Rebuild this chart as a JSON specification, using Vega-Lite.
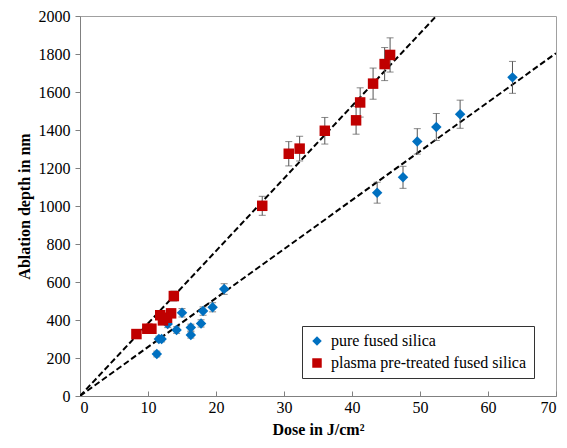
{
  "$schema": "https://vega.github.io/schema/vega-lite/v6.json",
  "width": 476,
  "height": 380,
  "autosize": "none",
  "padding": {"left": 80, "top": 16, "right": 11, "bottom": 52},
  "background": "white",
  "config": {
    "view": {"stroke": "#a0a0a0", "strokeWidth": 1},
    "font": "Times New Roman",
    "axis": {
      "labelFont": "Times New Roman", "labelFontSize": 16, "labelColor": "#000",
      "titleFont": "Times New Roman", "titleFontSize": 16, "titleFontWeight": "bold", "titleColor": "#000",
      "domainColor": "#808080", "tickColor": "#808080", "grid": false, "tickSize": 5
    },
    "legend": {"labelFont": "Times New Roman", "labelFontSize": 16, "labelColor": "#000", "labelLimit": 0}
  },
  "datasets": {
    "pts": [
      {"s": "pure fused silica", "x": 11.3, "y": 221, "lo": 206, "hi": 236},
      {"s": "pure fused silica", "x": 11.6, "y": 300, "lo": 285, "hi": 315},
      {"s": "pure fused silica", "x": 12.0, "y": 300, "lo": 285, "hi": 315},
      {"s": "pure fused silica", "x": 12.9, "y": 379, "lo": 360, "hi": 398},
      {"s": "pure fused silica", "x": 14.2, "y": 347, "lo": 330, "hi": 364},
      {"s": "pure fused silica", "x": 15.0, "y": 438, "lo": 416, "hi": 460},
      {"s": "pure fused silica", "x": 16.3, "y": 360, "lo": 342, "hi": 378},
      {"s": "pure fused silica", "x": 16.3, "y": 321, "lo": 305, "hi": 337},
      {"s": "pure fused silica", "x": 17.8, "y": 382, "lo": 363, "hi": 401},
      {"s": "pure fused silica", "x": 18.1, "y": 447, "lo": 425, "hi": 469},
      {"s": "pure fused silica", "x": 19.5, "y": 467, "lo": 443, "hi": 491},
      {"s": "pure fused silica", "x": 21.2, "y": 563, "lo": 535, "hi": 591},
      {"s": "pure fused silica", "x": 43.7, "y": 1070, "lo": 1015, "hi": 1125},
      {"s": "pure fused silica", "x": 47.5, "y": 1151, "lo": 1093, "hi": 1209},
      {"s": "pure fused silica", "x": 49.6, "y": 1340, "lo": 1273, "hi": 1407},
      {"s": "pure fused silica", "x": 52.4, "y": 1416, "lo": 1345, "hi": 1487},
      {"s": "pure fused silica", "x": 55.9, "y": 1483, "lo": 1409, "hi": 1557},
      {"s": "pure fused silica", "x": 63.6, "y": 1677, "lo": 1593, "hi": 1761},
      {"s": "plasma pre-treated fused silica", "x": 8.3, "y": 326, "lo": 310, "hi": 342},
      {"s": "plasma pre-treated fused silica", "x": 9.9, "y": 354, "lo": 336, "hi": 372},
      {"s": "plasma pre-treated fused silica", "x": 10.5, "y": 354, "lo": 336, "hi": 372},
      {"s": "plasma pre-treated fused silica", "x": 11.8, "y": 425, "lo": 404, "hi": 446},
      {"s": "plasma pre-treated fused silica", "x": 12.2, "y": 398, "lo": 378, "hi": 418},
      {"s": "plasma pre-treated fused silica", "x": 12.8, "y": 412, "lo": 391, "hi": 433},
      {"s": "plasma pre-treated fused silica", "x": 13.4, "y": 435, "lo": 413, "hi": 457},
      {"s": "plasma pre-treated fused silica", "x": 13.8, "y": 526, "lo": 500, "hi": 552},
      {"s": "plasma pre-treated fused silica", "x": 26.8, "y": 1001, "lo": 951, "hi": 1051},
      {"s": "plasma pre-treated fused silica", "x": 30.7, "y": 1275, "lo": 1211, "hi": 1339},
      {"s": "plasma pre-treated fused silica", "x": 32.3, "y": 1302, "lo": 1237, "hi": 1367},
      {"s": "plasma pre-treated fused silica", "x": 36.0, "y": 1396, "lo": 1326, "hi": 1466},
      {"s": "plasma pre-treated fused silica", "x": 40.6, "y": 1451, "lo": 1378, "hi": 1524},
      {"s": "plasma pre-treated fused silica", "x": 41.2, "y": 1545, "lo": 1468, "hi": 1622},
      {"s": "plasma pre-treated fused silica", "x": 43.1, "y": 1644, "lo": 1562, "hi": 1726},
      {"s": "plasma pre-treated fused silica", "x": 44.8, "y": 1747, "lo": 1660, "hi": 1834},
      {"s": "plasma pre-treated fused silica", "x": 45.6, "y": 1795, "lo": 1705, "hi": 1885}
    ],
    "fits": [
      {"s": "pure", "x": 0, "y": 0},
      {"s": "pure", "x": 70, "y": 1804},
      {"s": "plasma", "x": 0, "y": 0},
      {"s": "plasma", "x": 52.4, "y": 2000}
    ]
  },
  "encoding": {
    "x": {"field": "x", "type": "quantitative", "scale": {"domain": [0, 70], "nice": false}, "axis": {"values": [0, 10, 20, 30, 40, 50, 60, 70], "format": "d", "title": "Dose in J/cm²", "tickSize": -5, "labelPadding": 8, "titlePadding": 6}},
    "y": {"field": "y", "type": "quantitative", "scale": {"domain": [0, 2000], "nice": false}, "axis": {"values": [0, 200, 400, 600, 800, 1000, 1200, 1400, 1600, 1800, 2000], "format": "d", "title": "Ablation depth in nm", "labelPadding": 5, "titlePadding": 6}}
  },
  "layer": [
    {
      "data": {"name": "fits"},
      "mark": {"type": "line", "color": "#000", "strokeWidth": 2, "strokeDash": [6, 3], "clip": true},
      "encoding": {"detail": {"field": "s"}}
    },
    {
      "data": {"name": "pts"},
      "mark": {"type": "rule", "color": "#555", "strokeWidth": 1},
      "encoding": {"y": {"field": "lo", "type": "quantitative"}, "y2": {"field": "hi"}}
    },
    {
      "data": {"name": "pts"},
      "mark": {"type": "tick", "color": "#555", "thickness": 1, "size": 7, "orient": "horizontal"},
      "encoding": {"y": {"field": "lo", "type": "quantitative"}}
    },
    {
      "data": {"name": "pts"},
      "mark": {"type": "tick", "color": "#555", "thickness": 1, "size": 7, "orient": "horizontal"},
      "encoding": {"y": {"field": "hi", "type": "quantitative"}}
    },
    {
      "data": {"name": "pts"},
      "mark": {"type": "point", "filled": true, "opacity": 1, "size": 110},
      "encoding": {
        "color": {"field": "s", "type": "nominal", "scale": {"domain": ["pure fused silica", "plasma pre-treated fused silica"], "range": ["#0070C0", "#C00000"]}, "legend": {"title": null, "orient": "none", "legendX": 222, "legendY": 310, "fillColor": "white", "strokeColor": "#333", "padding": 7, "rowPadding": 6, "symbolSize": 90, "labelOffset": 6}},
        "shape": {"field": "s", "type": "nominal", "scale": {"domain": ["pure fused silica", "plasma pre-treated fused silica"], "range": ["diamond", "square"]}}
      }
    }
  ]
}
